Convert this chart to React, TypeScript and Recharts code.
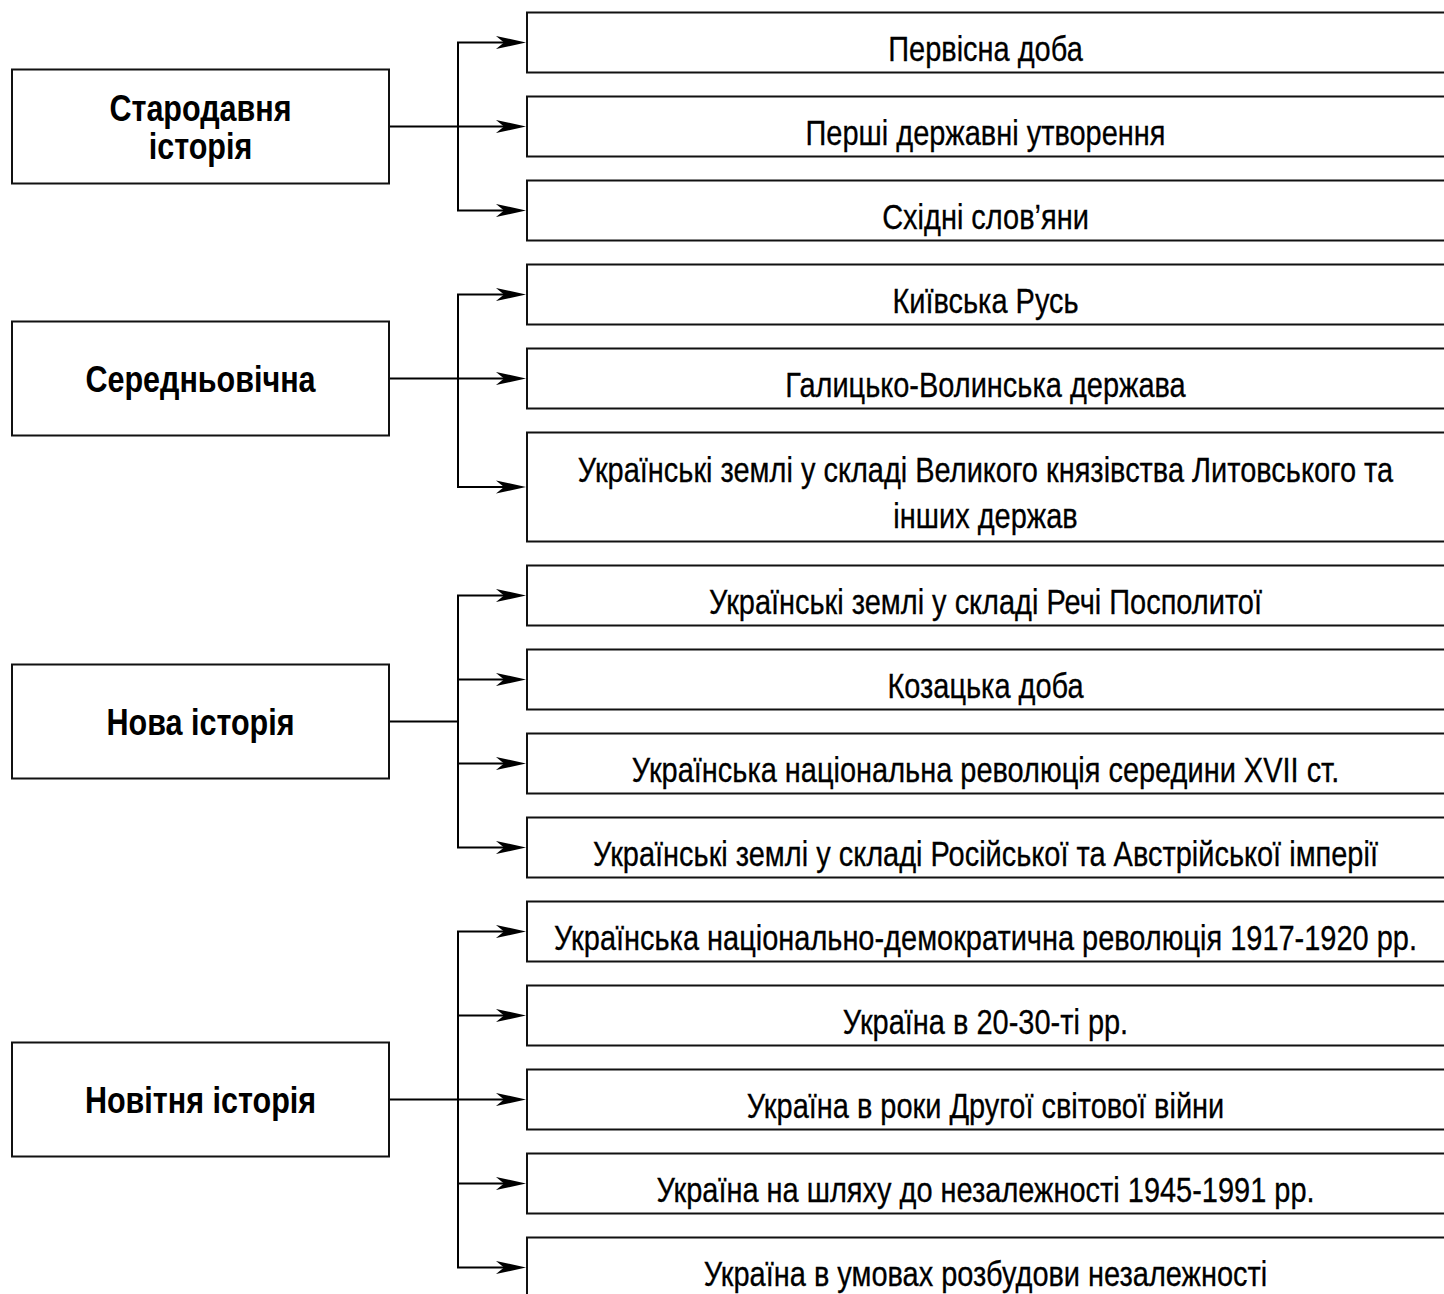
import React from "react";
import { ComposedChart, Scatter, XAxis, YAxis, ReferenceLine } from "recharts";

// periods of Ukrainian history: left column = main periods, right column = stages
const GROUP_LABELS = [
  ["Стародавня", "історія"],
  ["Середньовічна"],
  ["Нова історія"],
  ["Новітня історія"],
];

const ANCIENT = ["Первісна доба", "Перші державні утворення", "Східні слов’яни"];
const MEDIEVAL = [
  "Київська Русь",
  "Галицько-Волинська держава",
  "Українські землі у складі Великого князівства Литовського та\nінших держав",
];
const MODERN = [
  "Українські землі у складі Речі Посполитої",
  "Козацька доба",
  "Українська національна революція середини XVII ст.",
  "Українські землі у складі Російської та Австрійської імперії",
];
const CONTEMPORARY = [
  "Українська національно-демократична революція 1917-1920 рр.",
  "Україна в 20-30-ті рр.",
  "Україна в роки Другої світової війни",
  "Україна на шляху до незалежності 1945-1991 рр.",
  "Україна в умовах розбудови незалежності",
];

const PERIODS = [ANCIENT, MEDIEVAL, MODERN, CONTEMPORARY];

// layout
const W = 1444;
const H = 1294;
const TOP = 12.5;
const BOX_H = 60;
const EXTRA_LINE = 49;
const GAP = 24;
const RIGHT_X = 527;
const LEFT_X = 12;
const LEFT_W = 377;
const LEFT_H = 114;
const TRUNK_X = 458;

// no condensed font installed, so squeeze a plain sans horizontally
const FONT = "'Liberation Sans', Arial, sans-serif";
const SQUEEZE = 0.805;
const SQUEEZE_BOLD = 0.825;

type Item = { x: number; y: number; h: number; lines: string[]; group: number };

const rightItems: Item[] = [];
let cursor = TOP;
PERIODS.forEach((list, g) => {
  list.forEach((label) => {
    const lines = label.split("\n");
    const h = BOX_H + (lines.length - 1) * EXTRA_LINE;
    rightItems.push({ x: RIGHT_X, y: cursor + h / 2, h, lines, group: g });
    cursor += h + GAP;
  });
});

const leftItems = GROUP_LABELS.map((lines, g) => {
  const ys = rightItems.filter((d) => d.group === g).map((d) => d.y);
  const mid = ys.length % 2
    ? ys[(ys.length - 1) / 2]
    : (ys[ys.length / 2 - 1] + ys[ys.length / 2]) / 2;
  return { x: LEFT_X, y: mid, lines, first: ys[0], last: ys[ys.length - 1] };
});

const PeriodBox = (props: any) => {
  const { cx, cy, payload } = props;
  const h = payload.h;
  const n = payload.lines.length;
  const tx = cx + (W - cx) / 2;
  return (
    <g>
      <rect x={cx} y={cy - h / 2} width={W - cx + 20} height={h} fill="#fff" stroke="#111" strokeWidth={2} />
      <polygon
        points={`${cx - 1},${cy} ${cx - 31},${cy - 6.5} ${cx - 23},${cy} ${cx - 31},${cy + 6.5}`}
        fill="#000"
      />
      {payload.lines.map((t: string, i: number) => (
        <text
          key={i}
          transform={`translate(${tx},${cy + 18 + (i - (n - 1) / 2) * 46}) scale(${SQUEEZE},1)`}
          textAnchor="middle"
          fontSize={36}
          fontFamily={FONT}
          fill="#000"
          stroke="#000"
          strokeWidth={0.3}
        >
          {t}
        </text>
      ))}
    </g>
  );
};

const GroupBox = (props: any) => {
  const { cx, cy, payload } = props;
  const n = payload.lines.length;
  return (
    <g>
      <rect x={cx} y={cy - LEFT_H / 2} width={LEFT_W} height={LEFT_H} fill="#fff" stroke="#111" strokeWidth={2} />
      {payload.lines.map((t: string, i: number) => (
        <text
          key={i}
          transform={`translate(${cx + LEFT_W / 2},${cy + 13 + (i - (n - 1) / 2) * 38}) scale(${SQUEEZE_BOLD},1)`}
          textAnchor="middle"
          fontSize={37}
          fontWeight="bold"
          fontFamily={FONT}
          fill="#000"
        >
          {t}
        </text>
      ))}
    </g>
  );
};

export default function App() {
  return (
    <div style={{ position: "absolute", left: 0, top: 0, background: "#fff" }}>
      <ComposedChart width={W} height={H} margin={{ top: 0, right: 0, bottom: 0, left: 0 }}>
        <XAxis type="number" dataKey="x" domain={[0, W]} hide allowDataOverflow />
        <YAxis type="number" dataKey="y" domain={[0, H]} reversed hide allowDataOverflow />
        {leftItems.map((g, i) => (
          <ReferenceLine
            key={`h${i}`}
            segment={[{ x: LEFT_X + LEFT_W, y: g.y }, { x: TRUNK_X, y: g.y }]}
            stroke="#000"
            strokeWidth={2}
            ifOverflow="visible"
          />
        ))}
        {leftItems.map((g, i) => (
          <ReferenceLine
            key={`v${i}`}
            segment={[{ x: TRUNK_X, y: g.first }, { x: TRUNK_X, y: g.last }]}
            stroke="#000"
            strokeWidth={2}
            ifOverflow="visible"
          />
        ))}
        {rightItems.map((d, i) => (
          <ReferenceLine
            key={`a${i}`}
            segment={[{ x: TRUNK_X - 1, y: d.y }, { x: RIGHT_X - 10, y: d.y }]}
            stroke="#000"
            strokeWidth={2}
            ifOverflow="visible"
          />
        ))}
        <Scatter data={leftItems} shape={GroupBox} isAnimationActive={false} />
        <Scatter data={rightItems} shape={PeriodBox} isAnimationActive={false} />
      </ComposedChart>
    </div>
  );
}
